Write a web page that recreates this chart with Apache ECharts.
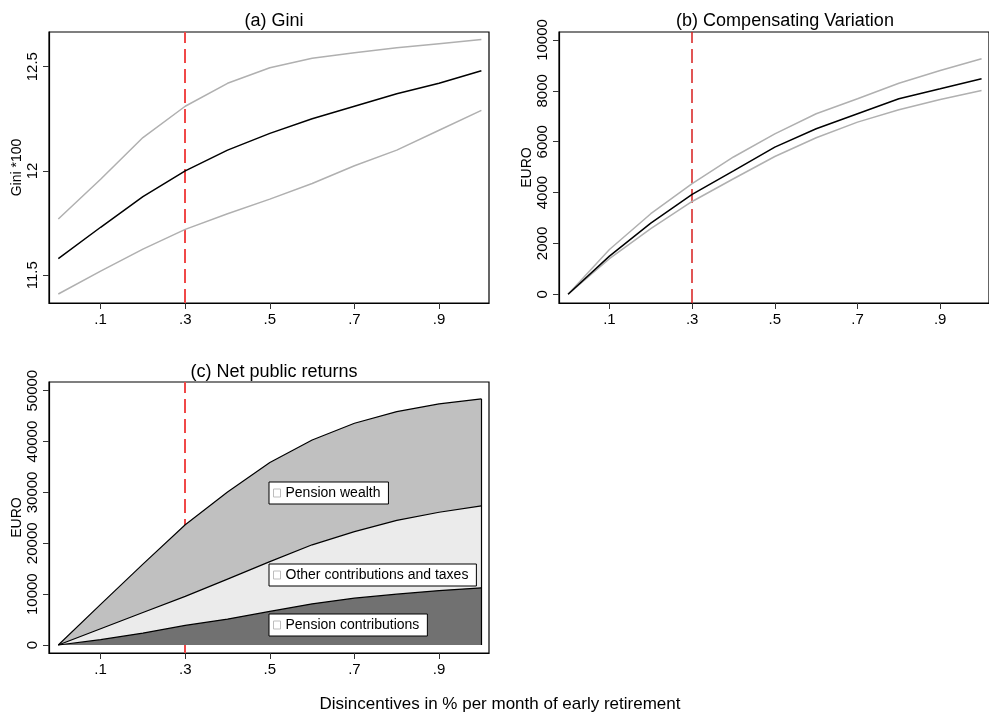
<!DOCTYPE html>
<html>
<head>
<meta charset="UTF-8">
<title>early retirement</title>
<script src="https://cdn.jsdelivr.net/npm/echarts@6/dist/echarts.min.js"></script>
<style>
  html, body { margin: 0; padding: 0; background: #fff; }
  #main { width: 989px; height: 722px; }
</style>
</head>
<body>
<div id="main"></div>
<script>
// disincentive per month (x)
var xVals = [0, 0.1, 0.2, 0.3, 0.4, 0.5, 0.6, 0.7, 0.8, 0.9, 1.0];
var xTicks = [0.1, 0.3, 0.5, 0.7, 0.9];

// (a) Gini *100
var giniMid = [11.58, 11.73, 11.877, 12.0, 12.10, 12.18, 12.25, 12.31, 12.37, 12.42, 12.48];
var giniHi  = [11.77, 11.96, 12.16, 12.31, 12.42, 12.495, 12.54, 12.567, 12.59, 12.61, 12.63];
var giniLo  = [11.41, 11.52, 11.625, 11.72, 11.795, 11.865, 11.94, 12.025, 12.10, 12.195, 12.29];
var giniTicks = [11.5, 12, 12.5];

// (b) compensating variation, EURO
var cvMid = [0, 1500, 2800, 3930, 4850, 5790, 6510, 7100, 7690, 8080, 8480];
var cvHi  = [0, 1760, 3170, 4350, 5400, 6310, 7100, 7690, 8300, 8800, 9260];
var cvLo  = [0, 1400, 2580, 3650, 4545, 5420, 6155, 6770, 7255, 7660, 8015];
var cvTicks = [0, 2000, 4000, 6000, 8000, 10000];

// (c) net public returns, EURO (components, stacked bottom to top)
var pensionContrib = [0, 1050, 2350, 3850, 5100, 6600, 8100, 9200, 10000, 10700, 11250];
var otherContrib   = [0, 2150, 4050, 5700, 7850, 9800, 11600, 13100, 14500, 15400, 16100];
var pensionWealth  = [0, 4800, 9500, 14100, 17150, 19500, 20600, 21300, 21400, 21300, 21050];
var euroTicks = [0, 10000, 20000, 30000, 40000, 50000];

var refLine = 0.3;

var FONT = 'Liberation Sans, Arial, sans-serif';

function pairs(ys) {
  return xVals.map(function (x, i) { return [x, ys[i]]; });
}

function addUp() {
  var lists = arguments;
  return xVals.map(function (x, i) {
    var s = 0;
    for (var k = 0; k < lists.length; k++) s += lists[k][i];
    return s;
  });
}

var totalTop = addUp(pensionContrib, otherContrib, pensionWealth);
var lastX = xVals[xVals.length - 1];

function xAxisOf(gi) {
  return {
    type: 'value', gridIndex: gi, min: -0.022, max: 1.018,
    splitLine: { show: false },
    axisLine: { show: true, onZero: false, lineStyle: { color: '#000', width: 1.2 } },
    axisTick: { show: true, length: 6, lineStyle: { color: '#333' }, customValues: xTicks },
    axisLabel: {
      customValues: xTicks, margin: 9, color: '#000', fontFamily: FONT, fontSize: 15,
      formatter: function (v) { return v.toFixed(1).replace(/^0/, ''); }
    }
  };
}

function yAxisOf(gi, min, max, ticks, name) {
  return {
    type: 'value', gridIndex: gi, min: min, max: max,
    name: name, nameLocation: 'middle', nameGap: 25,
    nameTextStyle: { color: '#000', fontFamily: FONT, fontSize: 14 },
    splitLine: { show: false },
    axisLine: { show: true, onZero: false, lineStyle: { color: '#000', width: 1.2 } },
    axisTick: { show: true, length: 6, lineStyle: { color: '#333' }, customValues: ticks },
    axisLabel: {
      customValues: ticks, rotate: 90, margin: 9, color: '#000',
      fontFamily: FONT, fontSize: 15,
      formatter: function (v) { return String(v); }
    }
  };
}

function redLine(color, width) {
  return {
    silent: true, symbol: 'none', z: 1,
    label: { show: false },
    lineStyle: { color: color, width: width, type: [14, 6] },
    data: [{ xAxis: refLine }]
  };
}

function plainLine(name, xi, ys, color, extra) {
  var s = {
    name: name, type: 'line', xAxisIndex: xi, yAxisIndex: xi,
    data: pairs(ys), symbol: 'none', smooth: false, z: 3,
    lineStyle: { color: color, width: 1.5 }
  };
  if (extra) { for (var k in extra) s[k] = extra[k]; }
  return s;
}

// each area is filled from zero up to its running total; drawn top band first
function areaLine(name, ys, fill) {
  return {
    name: name, type: 'line', xAxisIndex: 2, yAxisIndex: 2,
    data: pairs(ys), symbol: 'none', z: 3,
    itemStyle: { color: fill },
    lineStyle: { color: '#000', width: 1.2 },
    areaStyle: { color: fill, opacity: 1, origin: 0 }
  };
}

function legendBox(name, top) {
  return {
    data: [name], left: 269, top: top, orient: 'horizontal',
    selectedMode: false, icon: 'rect', itemWidth: 7, itemHeight: 8, itemGap: 0,
    itemStyle: { color: '#fff', borderColor: '#bdbdbd', borderWidth: 1 },
    backgroundColor: '#fff', borderColor: '#000', borderWidth: 1,
    padding: [4, 8, 4, 4],
    textStyle: { color: '#000', fontFamily: FONT, fontSize: 14 }
  };
}

var gridBox = { show: true, borderColor: '#000', borderWidth: 1.2, backgroundColor: 'transparent' };

var option = {
  animation: false,
  backgroundColor: '#fff',
  textStyle: { fontFamily: FONT },
  title: [
    { text: '(a) Gini', left: 269, top: 7, textAlign: 'center',
      textStyle: { fontFamily: FONT, fontSize: 18, fontWeight: 'normal', color: '#000' } },
    { text: '(b) Compensating Variation', left: 780, top: 7, textAlign: 'center',
      textStyle: { fontFamily: FONT, fontSize: 18, fontWeight: 'normal', color: '#000' } },
    { text: '(c) Net public returns', left: 269, top: 358, textAlign: 'center',
      textStyle: { fontFamily: FONT, fontSize: 18, fontWeight: 'normal', color: '#000' } },
    { text: 'Disincentives in % per month of early retirement', left: 495, top: 691, textAlign: 'center',
      textStyle: { fontFamily: FONT, fontSize: 17, fontWeight: 'normal', color: '#000' } }
  ],
  legend: [
    legendBox('Pension wealth', 482),
    legendBox('Other contributions and taxes', 564),
    legendBox('Pension contributions', 614)
  ],
  grid: [
    Object.assign({ left: 49, top: 32, width: 440, height: 271 }, gridBox),
    Object.assign({ left: 559, top: 32, width: 440, height: 271 }, gridBox),
    Object.assign({ left: 49, top: 382, width: 440, height: 271 }, gridBox)
  ],
  xAxis: [xAxisOf(0), xAxisOf(1), xAxisOf(2)],
  yAxis: [
    yAxisOf(0, 11.367, 12.666, giniTicks, 'Gini *100'),
    yAxisOf(1, -342, 10315, cvTicks, 'EURO'),
    yAxisOf(2, -1573, 51710, euroTicks, 'EURO')
  ],
  series: [
    plainLine('gini hi', 0, giniHi, '#b0b0b0'),
    plainLine('gini lo', 0, giniLo, '#b0b0b0'),
    plainLine('gini', 0, giniMid, '#000', { markLine: redLine('#f04848', 2) }),

    plainLine('cv hi', 1, cvHi, '#b0b0b0'),
    plainLine('cv lo', 1, cvLo, '#b0b0b0'),
    plainLine('cv', 1, cvMid, '#000', { markLine: redLine('#d81e1e', 1.5) }),

    Object.assign(areaLine('Pension wealth', totalTop, '#c0c0c0'),
      { markLine: redLine('#f04848', 2) }),
    areaLine('Other contributions and taxes', addUp(pensionContrib, otherContrib), '#ebebeb'),
    Object.assign(areaLine('Pension contributions', addUp(pensionContrib), '#717171'), {
      // closing edge of the stacked areas at the last x
      markLine: {
        silent: true, symbol: 'none', z: 4, label: { show: false },
        lineStyle: { color: '#000', width: 1.2, type: 'solid' },
        data: [[{ coord: [lastX, 0] }, { coord: [lastX, totalTop[totalTop.length - 1]] }]]
      }
    })
  ]
};

var myChart = echarts.init(document.getElementById('main'));
myChart.setOption(option);
</script>
</body>
</html>
